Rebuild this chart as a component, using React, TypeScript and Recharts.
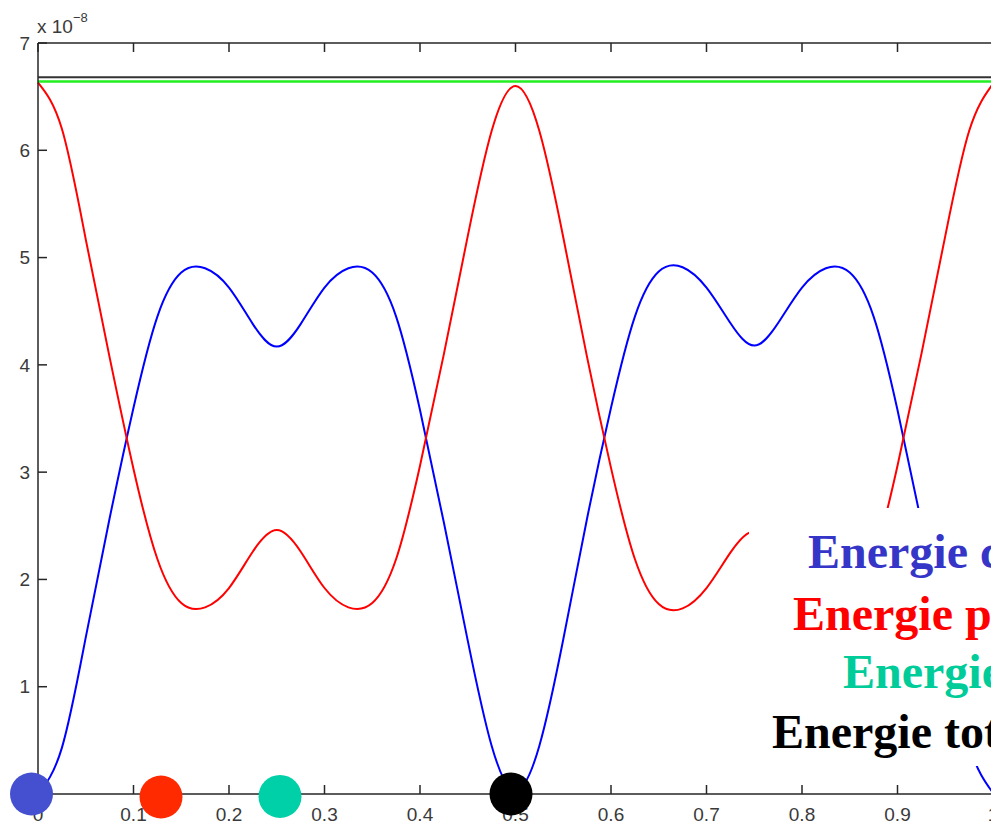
import { LineChart, Line, XAxis, YAxis, ReferenceLine, ReferenceDot } from 'recharts';

// x positions (s) and energies (x 1e-8 J)
const xs = [
  0, 0.025, 0.05, 0.075, 0.1, 0.125, 0.15, 0.175, 0.2, 0.225, 0.25, 0.275, 0.3, 0.325, 0.35, 0.375,
  0.4, 0.425, 0.45, 0.475, 0.5, 0.525, 0.55, 0.575, 0.6, 0.625, 0.65, 0.675, 0.7, 0.725, 0.75, 0.775,
  0.8, 0.825, 0.85, 0.875, 0.9, 0.925, 0.95, 0.975, 1,
];
const kinetic = [
  0, 0.43, 1.46, 2.57, 3.6, 4.45, 4.86, 4.9, 4.72, 4.38, 4.17, 4.38, 4.72, 4.9, 4.86, 4.45,
  3.58, 2.53, 1.43, 0.45, 0.03, 0.45, 1.44, 2.57, 3.6, 4.45, 4.87, 4.91, 4.72, 4.39, 4.18, 4.39,
  4.72, 4.9, 4.86, 4.45, 3.58, 2.53, 1.43, 0.45, 0.01,
];
const potential = [
  6.63, 6.2, 5.17, 4.07, 3.03, 2.19, 1.78, 1.74, 1.92, 2.26, 2.46, 2.26, 1.92, 1.74, 1.78, 2.19,
  3.06, 4.1, 5.2, 6.18, 6.6, 6.18, 5.19, 4.07, 3.04, 2.19, 1.77, 1.73, 1.92, 2.25, 2.45, 2.25,
  1.92, 1.74, 1.78, 2.19, 3.06, 4.1, 5.2, 6.18, 6.62,
];
const mechanicalLevel = 6.64;
const totalLevel = 6.68;

const xTicks = [0, 0.1, 0.2, 0.3, 0.4, 0.5, 0.6, 0.7, 0.8, 0.9, 1];
const yTicks = [0, 1, 2, 3, 4, 5, 6, 7];

// legend dots along the bottom axis
const dotX = [-0.0068, 0.1288, 0.2534, 0.4953];
const dotY = [0, -0.028, -0.023, 0];
const dotColors = ['#4450d0', '#ff2a00', '#00d0a8', '#000000'];

const legendLabels = ['Energie cinétique', 'Energie potentielle', 'Energie mécanique', 'Energie totale'];
const legendColors = ['#3535c8', '#ff0000', '#00cc99', '#000000'];

const data = xs.map((x, i) => ({ x, kinetic: kinetic[i], potential: potential[i] }));

const AXIS = '#262626';
const LABEL_FONT = { fontFamily: '"Liberation Sans", Arial, sans-serif', fontSize: 19, fill: '#3a3a3a' };

function LeftTick({ x, y, payload }: any) {
  return (
    <g>
      <line x1={x} x2={x + 9} y1={y} y2={y} stroke={AXIS} strokeWidth={1.5} />
      <text x={x - 8} y={y} dy="0.35em" textAnchor="end" {...LABEL_FONT}>
        {payload.value}
      </text>
    </g>
  );
}

function RightTick({ x, y }: any) {
  return <line x1={x} x2={x - 9} y1={y} y2={y} stroke={AXIS} strokeWidth={1.5} />;
}

function BottomTick({ x, y, payload }: any) {
  return (
    <g>
      <line x1={x} x2={x} y1={y} y2={y - 9} stroke={AXIS} strokeWidth={1.5} />
      <text x={x} y={y + 27} textAnchor="middle" {...LABEL_FONT}>
        {String(payload.value)}
      </text>
    </g>
  );
}

function TopTick({ x, y }: any) {
  return <line x1={x} x2={x} y1={y} y2={y + 9} stroke={AXIS} strokeWidth={1.5} />;
}

export default function App() {
  return (
    <div style={{ position: 'absolute', left: 0, top: 0, width: 991, height: 826, overflow: 'hidden', background: '#fff' }}>
      <LineChart width={1000} height={826} data={data} margin={{ top: 0, right: 0, bottom: 0, left: 0 }}>
        <XAxis
          dataKey="x"
          type="number"
          domain={[0, 1]}
          ticks={xTicks}
          height={32}
          tickSize={0}
          tickMargin={0}
          tickLine={false}
          axisLine={{ stroke: AXIS, strokeWidth: 1.5 }}
          tick={<BottomTick />}
          interval={0}
        />
        <XAxis
          xAxisId="top"
          orientation="top"
          dataKey="x"
          type="number"
          domain={[0, 1]}
          ticks={xTicks}
          height={43}
          tickSize={0}
          tickMargin={0}
          tickLine={false}
          axisLine={{ stroke: AXIS, strokeWidth: 1.5 }}
          tick={<TopTick />}
          interval={0}
        />
        <YAxis
          type="number"
          domain={[0, 7]}
          ticks={yTicks}
          width={38}
          tickSize={0}
          tickMargin={0}
          tickLine={false}
          axisLine={{ stroke: AXIS, strokeWidth: 1.5 }}
          tick={<LeftTick />}
          interval={0}
        />
        <YAxis
          yAxisId="right"
          orientation="right"
          type="number"
          domain={[0, 7]}
          ticks={yTicks}
          width={7}
          tickSize={0}
          tickMargin={0}
          tickLine={false}
          axisLine={{ stroke: AXIS, strokeWidth: 1.5 }}
          tick={<RightTick />}
          interval={0}
        />
        <ReferenceLine y={totalLevel} stroke="#333333" strokeWidth={2} />
        <ReferenceLine y={mechanicalLevel} stroke="#22ee22" strokeWidth={2.5} />
        <Line dataKey="kinetic" type="natural" stroke="#0000ff" strokeWidth={2} dot={false} isAnimationActive={false} />
        <Line dataKey="potential" type="natural" stroke="#ff0000" strokeWidth={2} dot={false} isAnimationActive={false} />
        {dotX.map((dx, i) => (
          <ReferenceDot
            key={i}
            x={dx}
            y={dotY[i]}
            r={21.5}
            fill={dotColors[i]}
            stroke="none"
            ifOverflow="visible"
            zIndex={2500}
          />
        ))}
      </LineChart>
      <svg width={991} height={826} style={{ position: 'absolute', left: 0, top: 0, pointerEvents: 'none' }}>
        <text x={37} y={33} {...LABEL_FONT}>
          x 10
          <tspan dy={-11} fontSize={13}>−8</tspan>
        </text>
        <rect x={749} y={508} width={242} height={258} fill="#ffffff" />
        {legendLabels.map((t, i) => (
          <text
            key={t}
            x={[808, 793, 843, 772][i]}
            y={[568, 630, 688, 748][i]}
            fill={legendColors[i]}
            fontFamily='"Liberation Serif", "Times New Roman", serif'
            fontWeight="bold"
            fontSize={48}
          >
            {t}
          </text>
        ))}
      </svg>
    </div>
  );
}
